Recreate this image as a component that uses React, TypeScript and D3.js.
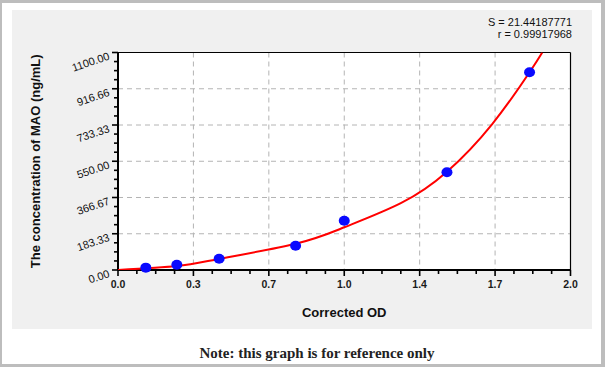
import React from "react";
import { curveNatural, line, range, scaleLinear } from "d3";

// standard points
const odValues = [0.123, 0.26, 0.447, 0.785, 1.0, 1.454, 1.819];
const concValues = [12, 27, 57, 123, 249, 494, 1000];

// fitted curve as drawn in the reference
const fitOD = [0, 0.26, 0.447, 0.785, 1.0, 1.25, 1.454, 1.654, 1.819, 1.875];
const fitConc = [0, 20, 56, 133, 216, 338, 497, 738, 1000, 1100];

const xTickLabels = ["0.0", "0.3", "0.7", "1.0", "1.4", "1.7", "2.0"];
const yTickValues = [0, 183.33, 366.67, 550, 733.33, 916.66, 1100];
const yTickLabels = ["0.00", "183.33", "366.67", "550.00", "733.33", "916.66", "1100.00"];

const statLines = ["S = 21.44187771", "r = 0.99917968"];

const sans = "'Liberation Sans', Arial, sans-serif";

const App = () => {
  const plot = { left: 118, right: 570.5, top: 52.5, bottom: 270 };

  const xScale = scaleLinear().domain([0, 2]).range([plot.left, plot.right]);
  const yScale = scaleLinear().domain([0, 1100]).range([plot.bottom, plot.top]);

  const xTickValues = xTickLabels.map((_, i) => (i * 2) / (xTickLabels.length - 1));

  // 4 subdivisions between major ticks
  const minor = (vals: number[]) =>
    vals.slice(0, -1).flatMap((v, i) => range(1, 4).map((k) => v + ((vals[i + 1] - v) * k) / 4));
  const xMinor = minor(xTickValues);
  const yMinor = minor(yTickValues);

  const fitLine = line<number>()
    .x((d) => xScale(d))
    .y((d, i) => yScale(fitConc[i]))
    .curve(curveNatural);

  return (
    <svg width={605} height={367} style={{ position: "absolute", left: 0, top: 0 }}>
      <defs>
        <clipPath id="plotClip">
          <rect x={plot.left} y={plot.top} width={plot.right - plot.left} height={plot.bottom - plot.top} />
        </clipPath>
      </defs>
      {/* frame */}
      <rect x={0} y={0} width={605} height={367} fill="#bdbdbd" />
      <rect x={2} y={3} width={599} height={361} fill="#ffffff" />
      <rect x={12} y={10} width={580} height={319} fill="#f0f0f0" />

      {/* plot area */}
      <rect x={plot.left} y={plot.top} width={plot.right - plot.left} height={plot.bottom - plot.top} fill="#ffffff" />

      {/* grid */}
      <g stroke="#b4b4b4" strokeWidth={1} strokeDasharray="5,4">
        {xTickValues.slice(1, -1).map((v) => (
          <line key={"gx" + v} x1={xScale(v)} x2={xScale(v)} y1={plot.top} y2={plot.bottom} />
        ))}
        {yTickValues.slice(1, -1).map((v) => (
          <line key={"gy" + v} x1={plot.left} x2={plot.right} y1={yScale(v)} y2={yScale(v)} />
        ))}
      </g>

      {/* top & right border */}
      <g stroke="#000" strokeWidth={1.2}>
        <line x1={plot.left} x2={plot.right} y1={plot.top} y2={plot.top} />
        <line x1={plot.right} x2={plot.right} y1={plot.top} y2={plot.bottom} />
      </g>

      {/* x axis */}
      <g stroke="#000">
        <line x1={plot.left} x2={plot.right} y1={plot.bottom} y2={plot.bottom} strokeWidth={2} />
        {xTickValues.map((v) => (
          <line key={"xt" + v} x1={xScale(v)} x2={xScale(v)} y1={plot.bottom} y2={plot.bottom + 6} strokeWidth={1.6} />
        ))}
        {xMinor.map((v) => (
          <line key={"xm" + v} x1={xScale(v)} x2={xScale(v)} y1={plot.bottom} y2={plot.bottom + 4} strokeWidth={1.6} />
        ))}
      </g>
      <g fontFamily={sans} fontSize={10.5} fontWeight="bold" fill="#1a1a1a" textAnchor="middle">
        {xTickLabels.map((t, i) => (
          <text key={"xl" + t} x={xScale(xTickValues[i])} y={plot.bottom + 18}>
            {t}
          </text>
        ))}
      </g>

      {/* y axis */}
      <g stroke="#000">
        <line x1={plot.left} x2={plot.left} y1={plot.top} y2={plot.bottom} strokeWidth={2} />
        {yTickValues.map((v) => (
          <line key={"yt" + v} x1={plot.left - 6} x2={plot.left} y1={yScale(v)} y2={yScale(v)} strokeWidth={1.6} />
        ))}
        {yMinor.map((v) => (
          <line key={"ym" + v} x1={plot.left - 4} x2={plot.left} y1={yScale(v)} y2={yScale(v)} strokeWidth={1.6} />
        ))}
      </g>
      <g fontFamily={sans} fontSize={11} fill="#111" textAnchor="end">
        {yTickLabels.map((t, i) => (
          <text
            key={"yl" + t}
            transform={`translate(${plot.left - 9},${yScale(yTickValues[i]) + 3}) rotate(-19)`}
            dy="0.35em"
          >
            {t}
          </text>
        ))}
      </g>

      {/* fitted curve */}
      <path d={fitLine(fitOD) || ""} fill="none" stroke="#ff0000" strokeWidth={2} clipPath="url(#plotClip)" />

      {/* standards */}
      {odValues.map((od, i) => (
        <ellipse key={"pt" + i} cx={xScale(od)} cy={yScale(concValues[i])} rx={5.5} ry={5} fill="#0a0aff" />
      ))}

      {/* titles */}
      <text
        transform={`translate(40,${(plot.top + plot.bottom) / 2}) rotate(-90)`}
        textAnchor="middle"
        fontFamily={sans}
        fontSize={13}
        fontWeight="bold"
        fill="#111"
      >
        The concentration of MAO (ng/mL)
      </text>
      <text
        x={(plot.left + plot.right) / 2}
        y={317}
        textAnchor="middle"
        fontFamily={sans}
        fontSize={13}
        fontWeight="bold"
        fill="#111"
      >
        Corrected OD
      </text>

      {/* stats */}
      <g fontFamily={sans} fontSize={11} fill="#111" textAnchor="end">
        {statLines.map((s, i) => (
          <text key={s} x={572} y={26 + i * 12}>
            {s}
          </text>
        ))}
      </g>

      <text
        x={317}
        y={358}
        textAnchor="middle"
        fontFamily="'Liberation Serif', 'Times New Roman', serif"
        fontSize={15}
        fontWeight="bold"
        fill="#222"
      >
        Note: this graph is for reference only
      </text>
    </svg>
  );
};

export default App;
